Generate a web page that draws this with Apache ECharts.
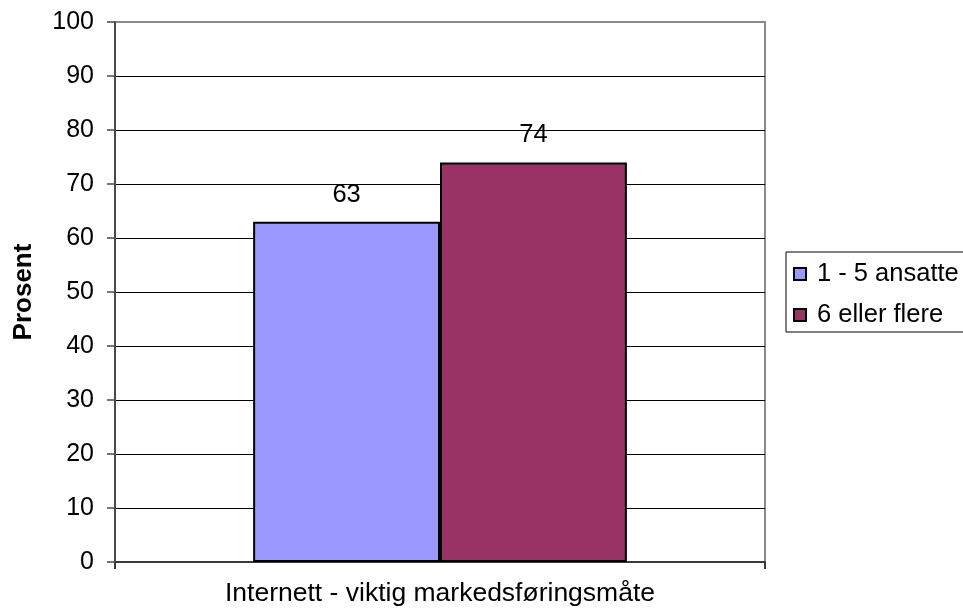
<!DOCTYPE html>
<html>
<head>
<meta charset="utf-8">
<script src="https://cdn.jsdelivr.net/npm/echarts@6/dist/echarts.min.js"></script>
<style>
  html, body { margin: 0; padding: 0; background: #fff; }
  #chart { width: 963px; height: 613px; }
</style>
</head>
<body>
<div id="chart"></div>
<script>
// Category and series values
const categories = ['Internett - viktig markedsføringsmåte'];
const seriesNames = ['1 - 5 ansatte', '6 eller flere'];
const small = [63];     // 1 - 5 ansatte
const large = [74];     // 6 eller flere
const yTicks = { min: 0, max: 100, interval: 10 };

const FONT = '"Liberation Sans", Arial, Helvetica, sans-serif';

// Grid lines: black, except the top edge which belongs to the grey plot frame
const splitColors = [];
for (let v = yTicks.min; v <= yTicks.max; v += yTicks.interval) {
  splitColors.push(v === yTicks.max ? '#8a8a8a' : '#000000');
}

const chart = echarts.init(document.getElementById('chart'), null, { renderer: 'canvas' });

const barLabel = {
  show: true,
  position: 'top',
  distance: 14,
  color: '#000',
  fontFamily: FONT,
  fontSize: 25.5
};

chart.setOption({
  animation: false,
  backgroundColor: '#ffffff',
  textStyle: { fontFamily: FONT },
  grid: {
    left: 115, right: 198, top: 22, bottom: 51,
    outerBoundsMode: 'none',
    containLabel: false,
    show: true,
    borderColor: '#8a8a8a',
    borderWidth: 2,
    backgroundColor: 'transparent'
  },
  legend: {
    orient: 'vertical',
    left: 786,
    top: 252,
    padding: [9, 40, 4, 7],
    itemGap: 15,
    itemWidth: 12,
    itemHeight: 12,
    borderColor: '#000',
    borderWidth: 1,
    icon: 'rect',
    textStyle: { fontFamily: FONT, fontSize: 25.5, color: '#000', padding: [0, 0, 0, 6] },
    data: seriesNames
  },
  xAxis: {
    type: 'category',
    data: categories,
    axisLine: { lineStyle: { color: '#3a3a3a', width: 2 } },
    axisTick: { show: true, length: 7, lineStyle: { color: '#3a3a3a', width: 2 } },
    axisLabel: { margin: 18, color: '#000', fontFamily: FONT, fontSize: 26.5 }
  },
  yAxis: {
    type: 'value',
    min: yTicks.min,
    max: yTicks.max,
    interval: yTicks.interval,
    name: 'Prosent',
    nameLocation: 'middle',
    nameRotate: 90,
    nameGap: 78,
    nameTextStyle: { fontFamily: FONT, fontSize: 26, fontWeight: 'bold', color: '#000' },
    axisLine: { show: true, lineStyle: { color: '#4a4a4a', width: 2 } },
    axisTick: { show: true, length: 8, lineStyle: { color: '#4a4a4a', width: 1.5 } },
    axisLabel: { margin: 21, color: '#000', fontFamily: FONT, fontSize: 25 },
    splitLine: { show: true, lineStyle: { color: splitColors, width: 1 } }
  },
  series: [
    {
      name: seriesNames[0],
      type: 'bar',
      data: small,
      barGap: '0%',
      barCategoryGap: '42.5%',
      itemStyle: { color: '#9999FF', borderColor: '#000', borderWidth: 2 },
      label: barLabel
    },
    {
      name: seriesNames[1],
      type: 'bar',
      data: large,
      barGap: '0%',
      barCategoryGap: '42.5%',
      itemStyle: { color: '#993366', borderColor: '#000', borderWidth: 2 },
      label: barLabel
    }
  ]
});
</script>
</body>
</html>
